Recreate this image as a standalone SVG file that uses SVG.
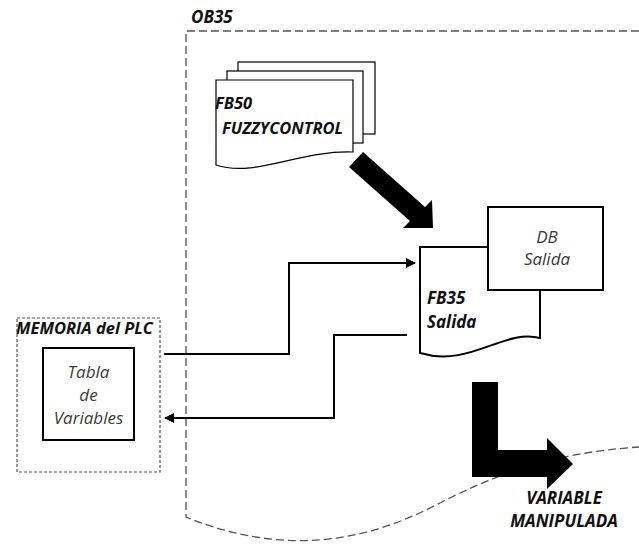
<svg xmlns="http://www.w3.org/2000/svg" width="639" height="546" viewBox="0 0 639 546">
<style>
.t{font-family:"Open Sans","Liberation Sans",sans-serif;font-style:italic}
.b{font-weight:bold;fill:#111}
.n{fill:#3a3a3a}
.box{fill:#fff;stroke:#000;stroke-width:2}
.dash{fill:none;stroke:#555;stroke-width:1.3;stroke-dasharray:8 4}
.dot{fill:none;stroke:#555;stroke-width:1.2;stroke-dasharray:3 2}
.con{fill:none;stroke:#000;stroke-width:2}
</style>
<defs>
<marker id="ah" markerWidth="10" markerHeight="10" refX="9" refY="5" orient="auto" markerUnits="userSpaceOnUse">
<path d="M0,0 L10,5 L0,10 Z" fill="#000"/>
</marker>
</defs>
<g id="ob35">
<path class="dash" d="M639,31 H186 V517 C280,555 360,545 440,503 C500,472 560,452 639,447"/>
<text class="t b" x="191" y="23" font-size="17">OB35</text>
</g>
<g id="memoria">
<rect class="dot" x="17" y="318" width="143" height="154"/>
<text class="t b" x="16" y="334" font-size="16.5">MEMORIA del PLC</text>
</g>
<g id="tabla">
<rect class="box" x="43" y="348" width="91" height="92"/>
<text class="t n" x="88.5" y="378" font-size="17" text-anchor="middle">Tabla</text>
<text class="t n" x="88.5" y="401" font-size="17" text-anchor="middle">de</text>
<text class="t n" x="88.5" y="424" font-size="17" text-anchor="middle">Variables</text>
</g>
<g id="fb50">
<rect x="238" y="62" width="137" height="72" fill="#fff" stroke="#000" stroke-width="1.2"/>
<rect x="227" y="71" width="136" height="72" fill="#fff" stroke="#000" stroke-width="1.2"/>
<path d="M216,80 H353 V152 C300,150 255,178 216,165 Z" fill="#fff" stroke="#000" stroke-width="1.2"/>
<text class="t b" x="215" y="109" font-size="16.5">FB50</text>
<text class="t b" x="222" y="134" font-size="16.5">FUZZYCONTROL</text>
</g>
<g id="fb35">
<path class="box" d="M420,247 H540 V338 C505,328 470,368 420,353 Z"/>
<text class="t b" x="427" y="304" font-size="17">FB35</text>
<text class="t b" x="427" y="328" font-size="17">Salida</text>
</g>
<g id="db">
<rect class="box" x="488" y="207" width="115" height="83"/>
<text class="t n" x="547" y="243" font-size="17" text-anchor="middle">DB</text>
<text class="t n" x="547" y="265" font-size="17" text-anchor="middle">Salida</text>
</g>
<g id="variable">
<text class="t b" x="564" y="504" font-size="17" text-anchor="middle">VARIABLE</text>
<text class="t b" x="564" y="527" font-size="17" text-anchor="middle">MANIPULADA</text>
</g>
<g id="connectors">
<polyline class="con" points="164,354 289,354 289,263 415,263" marker-end="url(#ah)"/>
<polyline class="con" points="407,335 334,335 334,418 165,418" marker-end="url(#ah)"/>
<polygon points="349,167 410,221 403,228 433,228 432,200 425,207 363,152" fill="#000"/>
<polygon points="472,382 498,382 498,450 547,450 547,438 573,464 547,489 547,477 472,477" fill="#000"/>
</g>
</svg>
